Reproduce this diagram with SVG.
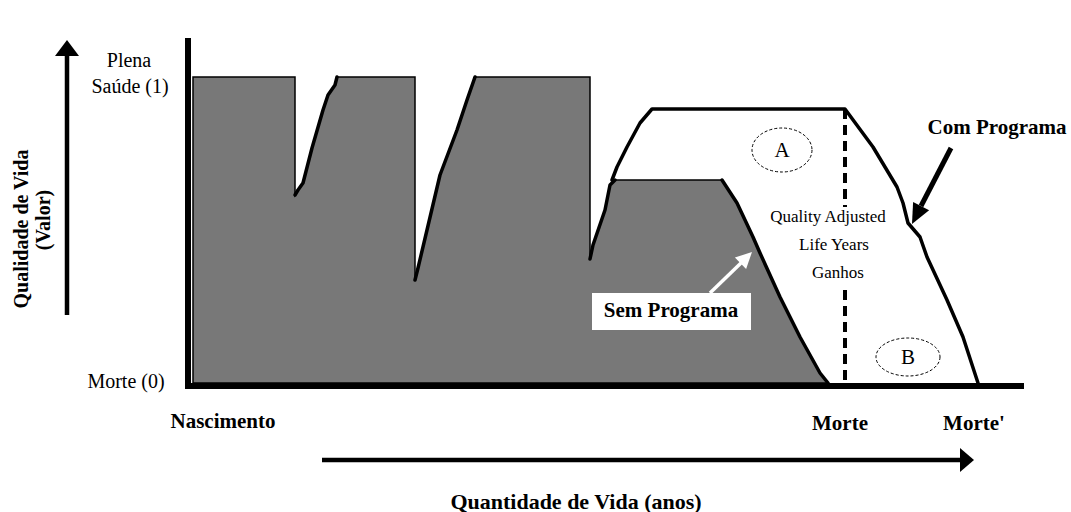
<svg xmlns="http://www.w3.org/2000/svg" width="1071" height="512" viewBox="0 0 1071 512">
<style>
.t{font-family:"Liberation Serif","Times New Roman",serif;fill:#000}
.r{font-size:20px}
.b{font-size:21px;font-weight:bold}
.q{font-size:17px}
.l{font-size:21px}
.curve{fill:none;stroke:#000;stroke-width:3.5;stroke-linejoin:round;stroke-linecap:round}
.ax{stroke:#000;stroke-width:6;fill:none}
.ell{fill:none;stroke:#000;stroke-width:1;stroke-dasharray:3 2}
</style>
<rect width="1071" height="512" fill="#fff"/>
<g id="sem-programa-area">
<path d="M193,77 L295,77 L295,195 L298,190 L303,183 L312,148 L323,110 L328,95 L335,85 L337,77 L415,77 L415,280 L418,268 L427,230 L440,175 L457,130 L467,100 L475,77 L590,77 L590,259 L593,245 L605,210 L610,185 L615,180 L722,180 L737,203 L753,237 L760,253 L780,297 L800,337 L820,373 L828,383 L193,383 Z" fill="#787878" stroke="#000" stroke-width="1.5"/>
<path class="curve" d="M295,195 L298,190 L303,183 L312,148 L323,110 L328,95 L335,85 L337,77"/>
<path class="curve" d="M415,280 L418,268 L427,230 L440,175 L457,130 L467,100 L475,77"/>
<path class="curve" d="M590,259 L593,245 L605,210 L610,185 L615,180 M722,180 L737,203 L753,237 L760,253 L780,297 L800,337 L820,373 L828,383"/>
</g>
<g id="com-programa-curve">
<path class="curve" d="M612,180 L617,167 L627,147 L640,123 L652,109 L845,109 L873,147 L897,187 L903,203 L908,223 L920,237 L927,257 L947,300 L963,337 L978,383"/>
<line x1="845" y1="109" x2="845" y2="207" stroke="#000" stroke-width="4" stroke-dasharray="10 6"/>
<line x1="845" y1="290" x2="845" y2="383" stroke="#000" stroke-width="4" stroke-dasharray="10 6"/>
</g>
<g id="axes">
<line class="ax" x1="188" y1="38" x2="188" y2="389"/>
<line class="ax" x1="185" y1="386" x2="1024" y2="386"/>
</g>
<g id="region-a">
<ellipse class="ell" cx="782" cy="150" rx="30" ry="22"/>
<text class="t l" x="782" y="157" text-anchor="middle">A</text>
</g>
<g id="region-b">
<ellipse class="ell" cx="908" cy="357" rx="32" ry="19"/>
<text class="t l" x="908" y="364" text-anchor="middle">B</text>
</g>
<g id="qaly-label">
<text class="t q" x="828" y="222" text-anchor="middle">Quality Adjusted</text>
<text class="t q" x="834" y="250" text-anchor="middle">Life Years</text>
<text class="t q" x="838" y="278" text-anchor="middle">Ganhos</text>
</g>
<g id="sem-programa-label">
<rect x="592" y="293" width="159" height="37" fill="#fff"/>
<text class="t b" x="671" y="317" text-anchor="middle">Sem Programa</text>
</g>
<g id="com-programa-label">
<text class="t b" x="997" y="134" text-anchor="middle">Com Programa</text>
</g>
<g id="y-labels">
<text class="t r" x="129" y="67" text-anchor="middle">Plena</text>
<text class="t r" x="130" y="93" text-anchor="middle">Saúde (1)</text>
<text class="t r" x="126" y="388" text-anchor="middle">Morte (0)</text>
<text class="t" style="font-size:20px;font-weight:bold" transform="translate(28,229) rotate(-90)" text-anchor="middle">Qualidade de Vida</text>
<text class="t" style="font-size:20px;font-weight:bold" transform="translate(50,220) rotate(-90)" text-anchor="middle">(Valor)</text>
</g>
<g id="x-labels">
<text class="t b" x="223" y="428" text-anchor="middle">Nascimento</text>
<text class="t b" x="840" y="430" text-anchor="middle">Morte</text>
<text class="t b" x="974" y="430" text-anchor="middle">Morte'</text>
<text class="t" style="font-size:22px;font-weight:bold" x="576" y="509" text-anchor="middle">Quantidade de Vida (anos)</text>
</g>
<g id="connectors">
<line x1="67" y1="315" x2="67" y2="54" stroke="#000" stroke-width="4.5"/>
<polygon points="67,40 55,56 79,56" fill="#000"/>
<line x1="322" y1="460" x2="962" y2="460" stroke="#000" stroke-width="4.5"/>
<polygon points="974,460 960,448 960,472" fill="#000"/>
<line x1="951" y1="148" x2="921" y2="206" stroke="#000" stroke-width="5"/>
<polygon points="912,224 929.1,210.3 913.1,202.1" fill="#000"/>
<line x1="710" y1="293" x2="741" y2="263" stroke="#fff" stroke-width="3.5"/>
<polygon points="752,252 746.1,268.9 734.9,257.5" fill="#fff"/>
</g>
</svg>
